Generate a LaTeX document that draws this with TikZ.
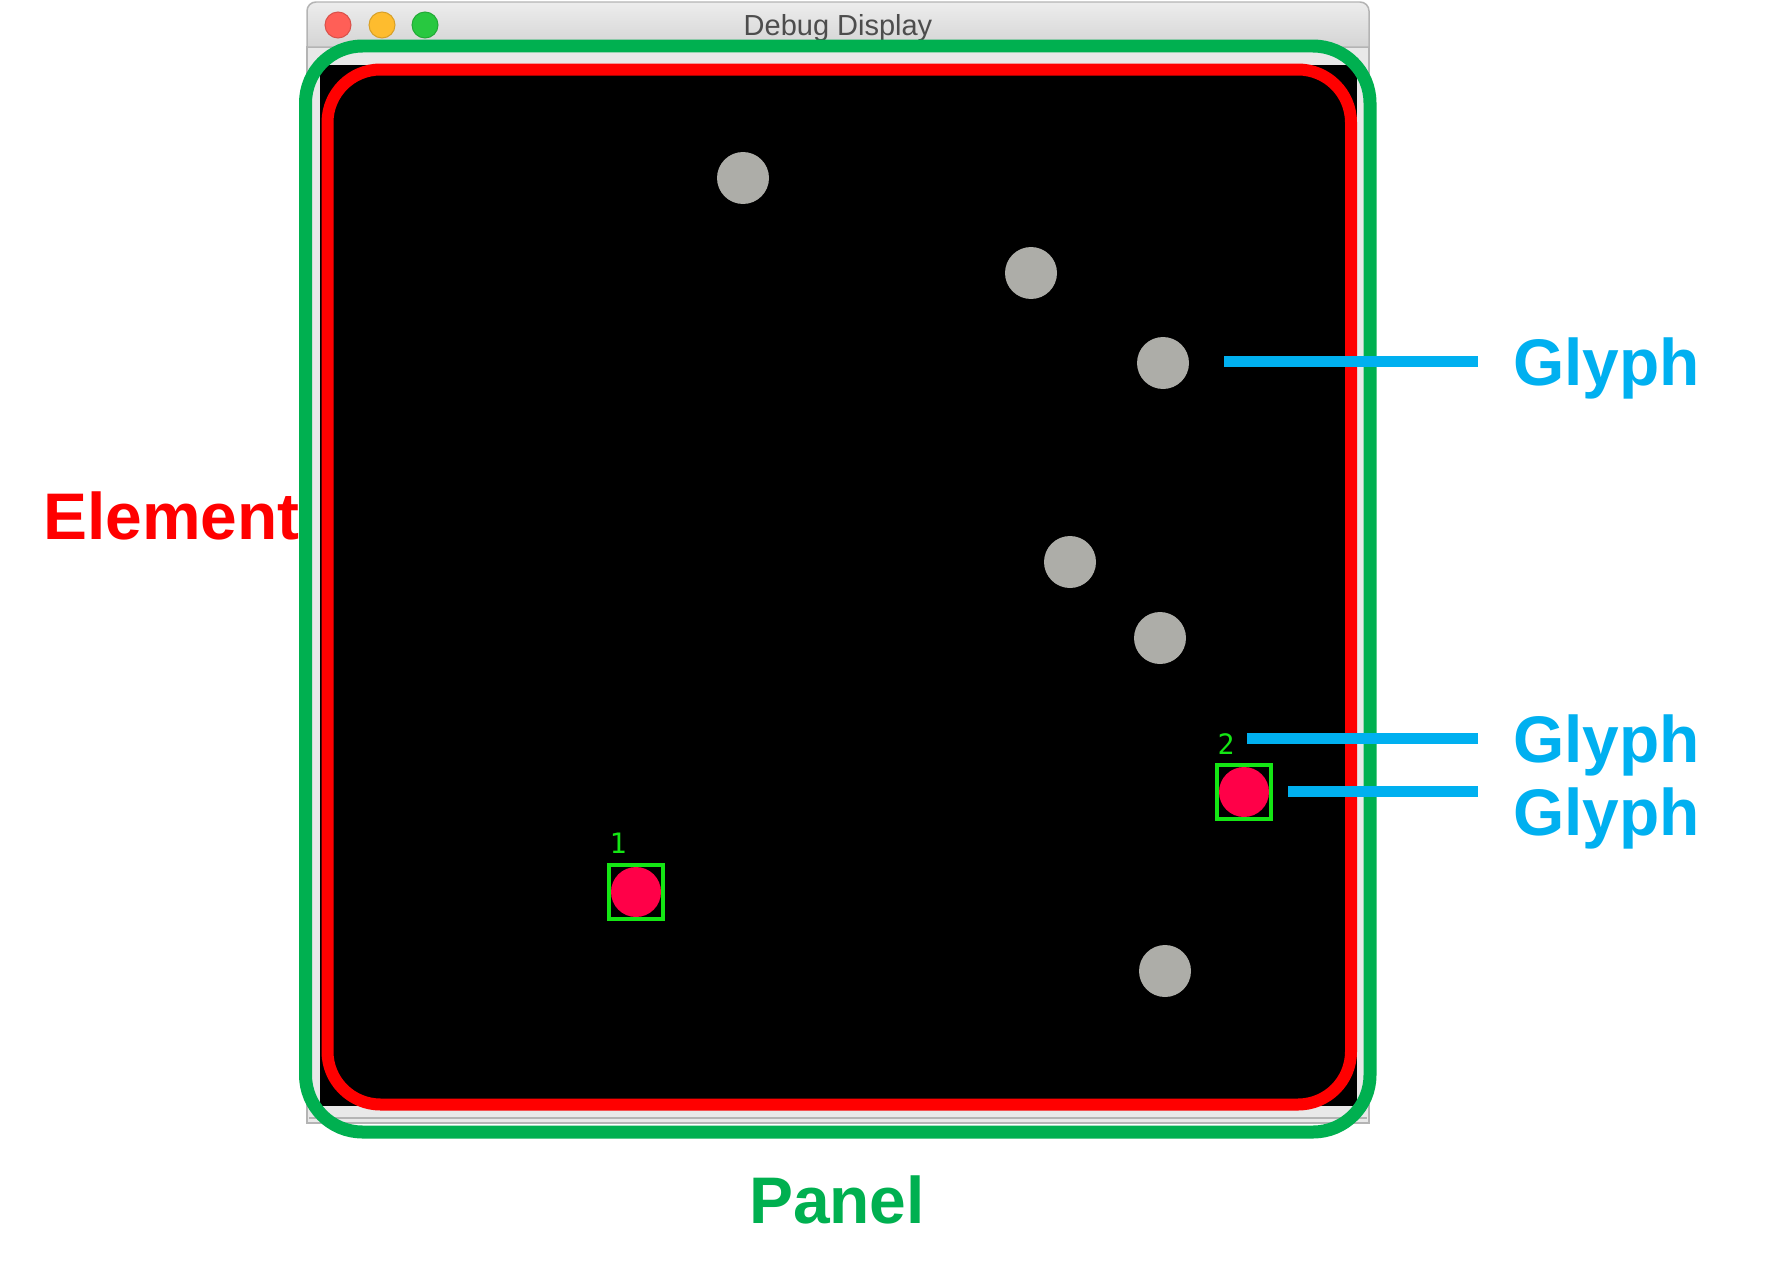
\documentclass[tikz,border=0pt]{standalone}
\usepackage{fontspec}
\setmainfont{Liberation Sans}
\newfontfamily\digitfont{DejaVu Sans Mono}

\definecolor{panelgreen}{HTML}{00B050}
\definecolor{elemred}{HTML}{FF0000}
\definecolor{callblue}{HTML}{00B0F0}
\definecolor{boxlime}{HTML}{14E614}
\definecolor{glyphred}{HTML}{FF0048}
\definecolor{dotgray}{HTML}{ADADA8}
\definecolor{framegray}{HTML}{E8E8E8}
\definecolor{bordergray}{HTML}{B4B4B4}
\definecolor{barhi}{HTML}{EDEDED}
\definecolor{barlo}{HTML}{D4D4D4}
\definecolor{titlegray}{HTML}{4D4D4D}
\definecolor{lightred}{HTML}{FF5F57}
\definecolor{lightyellow}{HTML}{FEBC2E}
\definecolor{lightgreen}{HTML}{28C840}

\begin{document}
\begin{tikzpicture}[
    x=0.02cm, y=-0.02cm,
    % Style for the grey dots on the canvas
    dot/.style={circle, fill=dotgray, inner sep=0pt, minimum size=1.04cm},
    % Style for the red glyphs and their green frames
    glyph core/.style={circle, fill=glyphred, inner sep=0pt, minimum size=1.0cm},
    glyph frame/.style={rectangle, draw=boxlime, line width=0.08cm, inner sep=0pt, minimum size=1.08cm},
    tag/.style={text=boxlime, font=\digitfont\fontsize{16}{17}\selectfont, inner sep=0pt},
    % Style for the window buttons
    light/.style={circle, inner sep=0pt, minimum size=0.52cm, line width=0.02cm},
    % Style for the big coloured words
    big label/.style={font=\bfseries\fontsize{37.5}{40}\selectfont, inner sep=0pt}
]

    % --- 1. Window ---
    \fill[white] (0,0) rectangle (1777,1281);
    \useasboundingbox (0,0) rectangle (1777,1281);

    \filldraw[fill=framegray, draw=bordergray, line width=0.03cm] (307,47) rectangle (1369,1123);
    \draw[bordergray, line width=0.03cm] (309,1118) -- (1367,1118);
    \shadedraw[top color=barhi, bottom color=barlo, draw=bordergray, line width=0.03cm]
        (307,47) [rounded corners=0.18cm] -- (307,2) -- (1369,2) [sharp corners] -- (1369,47) -- cycle;

    \node[light, fill=lightred, draw=lightred!85!black] (close) at (338,25) {};
    \node[light, fill=lightyellow, draw=lightyellow!85!black] (shrink) at (382,25) {};
    \node[light, fill=lightgreen, draw=lightgreen!85!black] (grow) at (425,25) {};
    \node[font=\fontsize{16.5}{18}\selectfont, text=titlegray, anchor=base, inner sep=0pt] (title) at (838,35) {Debug Display};

    \fill[black] (320,65) rectangle (1357,1106);

    % --- 2. Grey Dots ---
    \node[dot] (d1) at (743,178) {};
    \node[dot] (d2) at (1031,273) {};
    \node[dot] (d3) at (1163,363) {};
    \node[dot] (d4) at (1070,562) {};
    \node[dot] (d5) at (1160,638) {};
    \node[dot] (d6) at (1165,971) {};

    % --- 3. Glyphs ---
    \node[glyph core] (g1) at (636,892) {};
    \node[glyph frame] (f1) at (g1) {};
    \node[tag] (t1) at (618,843) {1};

    \node[glyph core] (g2) at (1244,792) {};
    \node[glyph frame] (f2) at (g2) {};
    \node[tag] (t2) at (1226,744) {2};

    % --- 4. Outlines ---
    % Element is drawn first, the green line runs over its last letter
    \node[big label, text=elemred, anchor=base west] (element) at (43,539) {Element};
    \draw[elemred, line width=0.24cm, rounded corners=1.06cm] (327.5,69.5) rectangle (1351,1104.5);
    \draw[panelgreen, line width=0.26cm, rounded corners=1.14cm] (305.5,46) rectangle (1370,1132);
    \node[big label, text=panelgreen, anchor=base] (panel) at (837,1223) {Panel};

    % --- 5. Callouts ---
    \tikzstyle{callout}=[callblue, line width=0.22cm]

    \node[big label, text=callblue, anchor=base west, inner xsep=0.7cm] (glyphA) at (1478,385) {Glyph};
    \node[big label, text=callblue, anchor=base west, inner xsep=0.7cm] (glyphB) at (1478,762) {Glyph};
    \node[big label, text=callblue, anchor=base west, inner xsep=0.7cm] (glyphC) at (1478,835) {Glyph};

    \coordinate (tipA) at (1224,361);
    \coordinate (tipB) at (1247,738.5);
    \coordinate (tipC) at (1288,791.5);

    \draw[callout] (tipA) -- (tipA -| glyphA.west);
    \draw[callout] (tipB) -- (tipB -| glyphB.west);
    \draw[callout] (tipC) -- (tipC -| glyphC.west);

\end{tikzpicture}
\end{document}
